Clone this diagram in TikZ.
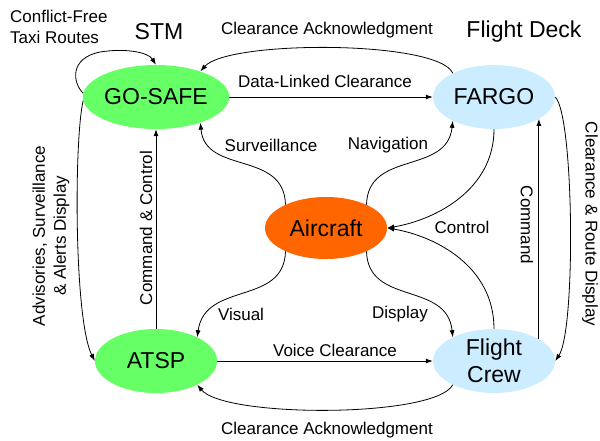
\documentclass[tikz,border=0pt]{standalone}
\usepackage{fontspec}
\setmainfont{Liberation Sans}
\usetikzlibrary{shapes.geometric,arrows.meta}
\definecolor{gsgreen}{HTML}{66FF66}
\definecolor{fdblue}{HTML}{CCECFF}
\definecolor{acorange}{HTML}{FF6600}
\tikzset{
  blob/.style={ellipse,minimum width=122pt,minimum height=64pt,inner sep=0pt,align=center,
    font=\fontsize{23}{27}\selectfont},
  lab/.style={font=\fontsize{17}{21}\selectfont,inner sep=0pt,align=center},
  big/.style={font=\fontsize{23}{27}\selectfont,inner sep=0pt},
  arr/.style={line width=0.8pt,-{Latex[length=7pt,width=5pt]}},
  ln/.style={line width=0.8pt}
}
\begin{document}
\begin{tikzpicture}[x=1pt,y=-1pt]
\useasboundingbox (0,0) rectangle (600,440);
% nodes
\node[blob,fill=gsgreen] (gosafe) at (156,97) {GO-SAFE};
\node[blob,fill=fdblue] (fargo) at (494,97) {FARGO};
\node[blob,fill=gsgreen] (atsp) at (156,361) {ATSP};
\node[blob,fill=fdblue] (crew) at (494,361) {Flight\\Crew};
\node[blob,fill=acorange,minimum height=62pt] (aircraft) at (326,228) {Aircraft};
% headings
\node[big] (stm) at (159,32) {STM};
\node[big] (fdeck) at (524,32) {Flight Deck};
% straight connectors
\draw[arr] (gosafe.east) -- (fargo.west);
\draw[arr] (atsp.east) -- (crew.west);
\draw[arr] (atsp.north) -- (gosafe.south);
\draw[arr] (crew.26.6) -- (crew.26.6 |- fargo.-26.6);
% top / bottom acknowledgments
\draw[arr] (fargo.150) .. controls (438,40) and (228,40) .. (gosafe.30);
\draw[arr] (crew.-150) .. controls (435,418) and (225,418) .. (atsp.-30);
% self loop
\coordinate (looptop) at (100,52);
\draw[arr] (gosafe.177) .. controls (72,82) and (70,58) .. (looptop) .. controls (125,48) and (148,52) .. (gosafe.north);
% side curves
\draw[arr] (gosafe.183) .. controls (74,140) and (74,320) .. (atsp.west);
\draw[arr] (fargo.east) .. controls (574,115) and (576,330) .. (crew.east);
% aircraft links
\draw[arr] (aircraft.150) .. controls (284,150) and (205,175) .. (gosafe.-30);
\draw[arr] (aircraft.30) .. controls (368,150) and (447,175) .. (fargo.-150);
\draw[arr] (aircraft.-150) .. controls (284,306) and (205,281) .. (atsp.30);
\draw[arr] (aircraft.-30) .. controls (368,306) and (447,281) .. (crew.150);
\draw[arr] (fargo.south) .. controls (494,190) and (435,220) .. (aircraft.east);
\draw[arr] (crew.north) .. controls (494,266) and (435,236) .. (aircraft.east);
% labels
\node[lab,align=left,anchor=north west] (cft) at (10,10) {Conflict-Free\\Taxi Routes};
\node[lab] (cat) at (327,30) {Clearance Acknowledgment};
\node[lab] (cab) at (327,430) {Clearance Acknowledgment};
\node[lab] (dlc) at (325,81) {Data-Linked Clearance};
\node[lab] (vc) at (335,350) {Voice Clearance};
\node[lab] (surv) at (271,145) {Surveillance};
\node[lab] (nav) at (388,145) {Navigation};
\node[lab] (vis) at (241,314) {Visual};
\node[lab] (disp) at (400,314) {Display};
\node[lab] (ctl) at (462,227) {Control};
\node[lab,rotate=90] (cc) at (146,228) {Command \& Control};
\node[lab,rotate=-90] (cmd) at (527,225) {Command};
\node[lab,rotate=-90] (crd) at (590,224) {Clearance \& Route Display};
\node[lab,rotate=90] (adv) at (51,236) {Advisories, Surveillance\\\& Alerts Display};
\end{tikzpicture}
\end{document}
